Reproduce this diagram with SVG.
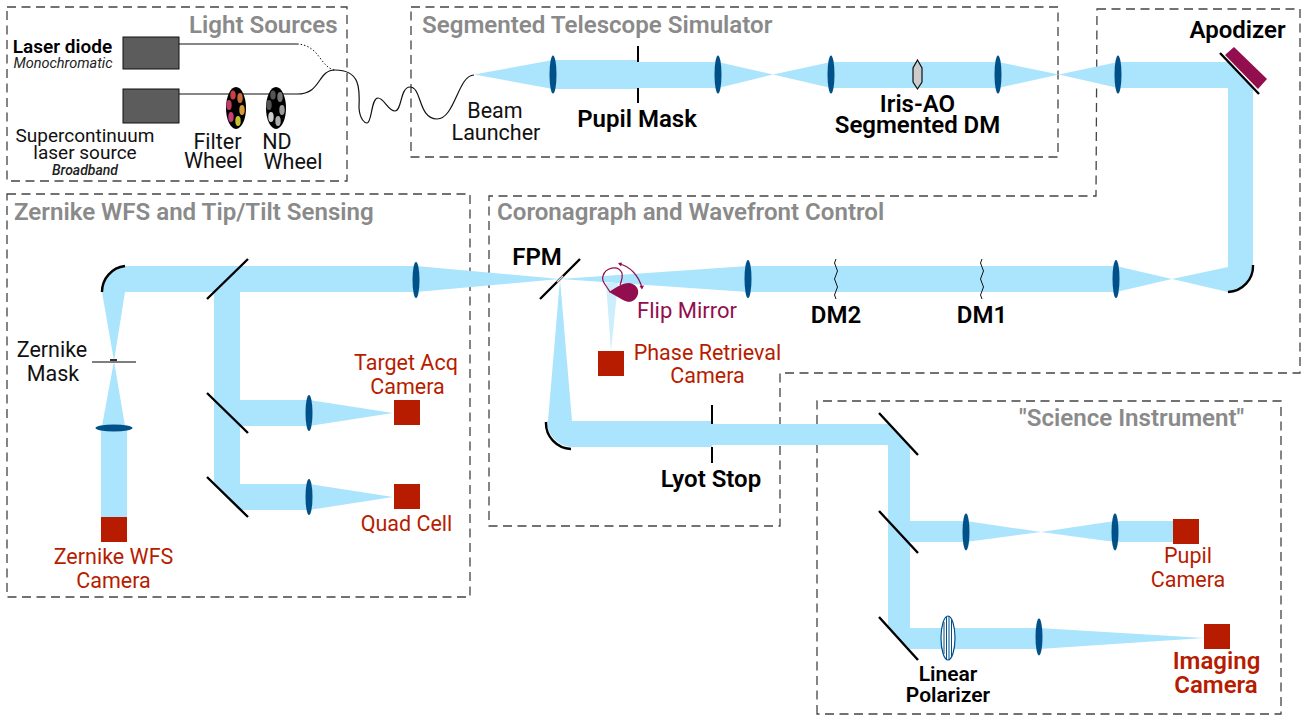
<svg xmlns="http://www.w3.org/2000/svg" width="1307" height="715" viewBox="0 0 1307 715">
<defs><style>
text{font-family:Roboto,"Liberation Sans",sans-serif;text-anchor:middle}
.box{fill:none;stroke:#444;stroke-width:1.300;stroke-dasharray:9 5.500}
.beam path{fill:#abe4fd}
.lens{fill:#00508a}
.cam{fill:#b71c00}
.mir{stroke:#000;stroke-width:2.400;fill:none}
.t{fill:#8a8a8a;font-weight:600;font-size:24.100px;text-anchor:start}
.b{fill:#000;font-weight:600;font-size:24px}
.k{fill:#111;font-size:21.500px}
.r{fill:#b71c00;font-size:21.500px}
</style></defs>
<rect width="1307" height="715" fill="#fff"/>
<g id="boxes">
<rect class="box" x="7" y="7" width="340" height="174"/>
<rect class="box" x="411" y="7" width="647" height="150"/>
<path class="box" d="M1097 9H1300V373H780V526H489V196H1096Z"/>
<rect class="box" x="7" y="194" width="463" height="403"/>
<path class="box" d="M817 714V401H1281V714Z"/>
</g>
<g id="beams" class="beam">
<path d="M474 74.500L553 60V89Z"/>
<path d="M553 60H638V89H553Z"/>
<path d="M638 62H718V88H638Z"/>
<path d="M718 62L773 74.500L718 88Z"/>
<path d="M773 74.500L831 62V88Z"/>
<path d="M831 62H998V88H831Z"/>
<path d="M998 62L1059 74.500L998 88Z"/>
<path d="M1059 74.500L1118 62V88Z"/>
<path d="M1118 62H1229L1253 87V267H1228V88H1118Z"/>
<path d="M1228 267H1253A26 26 0 0 1 1228 292Z"/>
<path d="M1228 267L1172 279L1228 292Z"/>
<path d="M1172 279L1116 266V292Z"/>
<path d="M1116 266H748V292H1116Z"/>
<path d="M748 266L560 279L748 292Z"/>
<path d="M560 279L416 266V292Z"/>
<path d="M416 266H125A26 26 0 0 0 102 292H416Z"/>
<path d="M214 292V484L240 510H309V484H240V426H309V400H240V292Z"/>
<path d="M309 400L393 413L309 426Z"/>
<path d="M309 484L393 497L309 510Z"/>
<path d="M102 292H125L114 361Z"/>
<path d="M114 361L102 426H125Z"/>
<path d="M101 428H127V517H101Z"/>
<path d="M560 279L548 421H572Z"/>
<path d="M572 421H712V447H571A26 26 0 0 1 547 421Z"/>
<path d="M712 424H889L910 446V521H966V542H910V628H1039V649H910L888 627V445H712Z"/>
<path d="M966 521L1041 532L966 542Z"/>
<path d="M1041 532L1115 521V542Z"/>
<path d="M1115 521H1173V542H1115Z"/>
<path d="M1039 628L1204 638L1039 649Z"/>
<path style="fill:#cdeefc" d="M606 283H618L611 351Z"/>
</g>
<g id="lenses">
<ellipse class="lens" cx="553" cy="74.500" rx="3.500" ry="19"/>
<ellipse class="lens" cx="718" cy="74.500" rx="3.500" ry="19"/>
<ellipse class="lens" cx="831" cy="74.500" rx="3.500" ry="19"/>
<ellipse class="lens" cx="998" cy="74.500" rx="3.500" ry="19"/>
<ellipse class="lens" cx="1118" cy="74.500" rx="3.500" ry="19"/>
<ellipse class="lens" cx="1116" cy="279" rx="3.500" ry="19"/>
<ellipse class="lens" cx="748" cy="279" rx="3.500" ry="19"/>
<ellipse class="lens" cx="416" cy="280" rx="3.500" ry="18"/>
<ellipse class="lens" cx="309" cy="413" rx="3.500" ry="18"/>
<ellipse class="lens" cx="309" cy="497" rx="3.500" ry="18"/>
<ellipse class="lens" cx="114" cy="428" rx="18.500" ry="3.500"/>
<ellipse class="lens" cx="966" cy="532" rx="3.500" ry="18.500"/>
<ellipse class="lens" cx="1115" cy="532" rx="3.500" ry="18.500"/>
<ellipse class="lens" cx="1039" cy="637" rx="3.500" ry="18.500"/>
</g>
<g id="cameras">
<rect class="cam" x="101" y="517" width="26" height="25"/>
<rect class="cam" x="394" y="400" width="26" height="25"/>
<rect class="cam" x="394" y="484" width="26" height="25"/>
<rect class="cam" x="598" y="351" width="26" height="25"/>
<rect class="cam" x="1173" y="519" width="26" height="25"/>
<rect class="cam" x="1204" y="624" width="26" height="25"/>
</g>
<g id="mirrors">
<path class="mir" d="M207 299L248 259M207 393L248 433M207 477L248 517M540 299L580 259M1220 53L1259 94M879 413L918 455M879 511L918 553M879 617L918 660"/>
<path class="mir" d="M102 292A26 26 0 0 1 125 266M1253 265A26 26 0 0 1 1228 292M546 422A26 26 0 0 0 571 449"/>
<path d="M557 282L563 276" stroke="#ddd" stroke-width="1.500"/>
<path d="M638 46V62M638 88V103M712 405V424M712 447V463" stroke="#000" stroke-width="2"/>
<path d="M92 362H136" stroke="#555" stroke-width="1.300"/>
<rect x="110" y="359" width="7" height="2" fill="#333"/>
<path d="M836 259q-3 4 0 8t0 8 0 8 0 8 0 8" fill="none" stroke="#111"/>
<path d="M982 259q-3 4 0 8t0 8 0 8 0 8 0 8" fill="none" stroke="#111"/>
<path fill="#ccc" stroke="#111" stroke-width="1.200" d="M917.500 60L922 68V82L917.500 89L913 82V68Z"/>
<path fill="#930e4f" d="M1234 47L1267 79L1258 89L1225 55Z"/>
<path fill="#930e4f" d="M609 292C615 288 622 283 629 283C636 284 639 289 638 294C636 301 630 304 623 300Z"/>
<path fill="none" stroke="#930e4f" stroke-width="1.200" d="M610 292C605 284 601 280 603 276C605 268 618 264 622 273C623 278 621 282 620 285M619 264C630 266 639 276 642 288"/>
<path fill="#930e4f" d="M618 263L622 262.500L621 266.500ZM642 289.500L639.500 286L644 285.500Z"/>
<ellipse cx="948" cy="638" rx="7" ry="22" fill="#fff" stroke="#00508a" stroke-width="1.200"/>
<path d="M944 622V654M946.500 617V659M949 616V660M951.500 619V657" stroke="#00508a" stroke-width="1"/>
</g>
<g id="sources">
<rect x="123" y="37" width="56" height="32" fill="#5c5c5c" stroke="#111"/>
<rect x="123" y="89" width="56" height="34" fill="#5c5c5c" stroke="#111"/>
<path d="M179 44H297M179 94H297" stroke="#111" stroke-width="1.200"/>
<path d="M297 44C320 45 320 68 335 70" fill="none" stroke="#111" stroke-dasharray="1.500 2"/>
<path d="M297 94C322 94 317 70 335 70C360 70 360 88 359 108C360 120 365 123 367 123C372 123 371 98 378 98C384 98 388 111 395 111C402 111 400 87 410 87C422 87 418 119 437 119C455 119 458 75 474 75" fill="none" stroke="#111" stroke-width="1.200"/>
<ellipse cx="236" cy="108" rx="10" ry="21" fill="#000"/>
<ellipse cx="276" cy="108" rx="10" ry="21" fill="#000"/>
<g id="filter-holes"><ellipse cx="233" cy="95" rx="2.700" ry="4.500" fill="#c9404a"/><ellipse cx="240" cy="98" rx="2.700" ry="5" fill="#cc6c36"/><ellipse cx="229" cy="105" rx="2.700" ry="5" fill="#c13c60"/><ellipse cx="242" cy="110" rx="2.700" ry="5" fill="#d39a3a"/><ellipse cx="231" cy="117" rx="2.700" ry="5" fill="#c83c78"/><ellipse cx="238" cy="121" rx="2.700" ry="5" fill="#c6c030"/></g>
<g id="nd-holes"><ellipse cx="273" cy="95" rx="2.700" ry="4.500" fill="#555"/><ellipse cx="280" cy="97" rx="2.700" ry="5" fill="#777"/><ellipse cx="269" cy="105" rx="2.700" ry="5" fill="#555"/><ellipse cx="282" cy="110" rx="2.700" ry="5" fill="#999"/><ellipse cx="271" cy="117" rx="2.700" ry="5" fill="#ccc"/><ellipse cx="278" cy="121" rx="2.700" ry="5" fill="#aaa"/></g>
</g>
<g id="labels">
<text class="t" x="189" y="33">Light Sources</text>
<text class="t" x="422" y="33">Segmented Telescope Simulator</text>
<text class="t" x="14" y="220">Zernike WFS and Tip/Tilt Sensing</text>
<text class="t" x="497" y="220">Coronagraph and Wavefront Control</text>
<text class="t" x="1019" y="426">"Science Instrument"</text>
<text x="62.500" y="53" font-size="19" font-weight="600">Laser diode</text>
<text x="63" y="68" font-size="14.500" font-style="italic" fill="#222">Monochromatic</text>
<text x="85" y="142" font-size="19" fill="#111">Supercontinuum</text>
<text x="85" y="158.500" font-size="19" fill="#111">laser source</text>
<text x="85" y="175" font-size="14" font-style="italic" font-weight="500" fill="#222">Broadband</text>
<text class="k" x="217.500" y="149">Filter</text>
<text class="k" x="213.500" y="168">Wheel</text>
<text class="k" x="277" y="149">ND</text>
<text class="k" x="293" y="169">Wheel</text>
<text class="k" x="495" y="118">Beam</text>
<text class="k" x="496" y="140">Launcher</text>
<text class="b" x="637" y="127">Pupil Mask</text>
<text class="b" x="917.500" y="112">Iris-AO</text>
<text class="b" x="917.500" y="133">Segmented DM</text>
<text class="b" x="1237.500" y="38">Apodizer</text>
<text class="b" x="537" y="265">FPM</text>
<text class="b" x="836" y="323">DM2</text>
<text class="b" x="982" y="323">DM1</text>
<text class="b" x="711" y="487">Lyot Stop</text>
<text class="b" x="948" y="681" style="font-size:21px">Linear</text>
<text class="b" x="948" y="702" style="font-size:21px">Polarizer</text>
<text x="687" y="318" font-size="22" fill="#930e4f">Flip Mirror</text>
<text class="r" x="707.500" y="360">Phase Retrieval</text>
<text class="r" x="707.500" y="383">Camera</text>
<text class="r" x="406" y="370">Target Acq</text>
<text class="r" x="407.500" y="394">Camera</text>
<text class="r" x="406.500" y="531">Quad Cell</text>
<text class="r" x="113.500" y="564">Zernike WFS</text>
<text class="r" x="113.500" y="588">Camera</text>
<text class="k" x="52" y="357">Zernike</text>
<text class="k" x="53" y="381">Mask</text>
<text class="r" x="1188" y="563">Pupil</text>
<text class="r" x="1188" y="587">Camera</text>
<text class="r" x="1216.500" y="669" style="font-size:24px;font-weight:600">Imaging</text>
<text class="r" x="1216" y="693" style="font-size:24px;font-weight:600">Camera</text>
</g>
</svg>
